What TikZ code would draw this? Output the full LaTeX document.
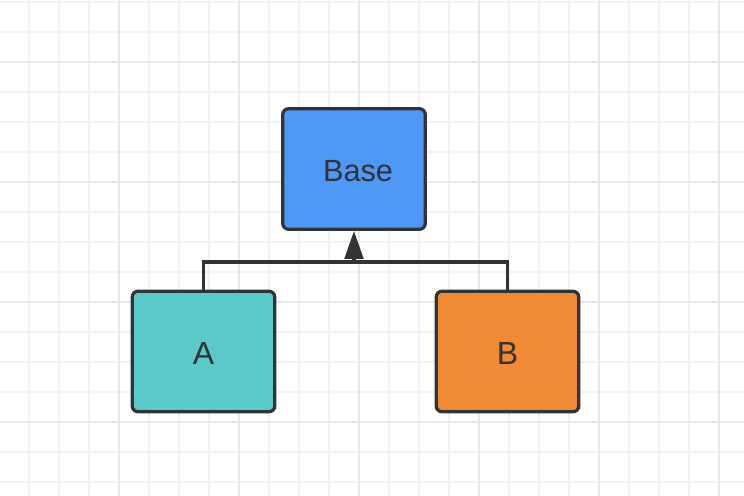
\documentclass[tikz,border=0pt]{standalone}
\usepackage{fontspec}
\setmainfont{Liberation Sans}
\usepackage{tikz}
\usetikzlibrary{arrows.meta, positioning}

\definecolor{baseblue}{HTML}{4F98F7}
\definecolor{ateal}{HTML}{5BC9C9}
\definecolor{borange}{HTML}{F08A35}
\definecolor{edgegray}{HTML}{333333}

\begin{document}
\begin{tikzpicture}[
    x=0.75pt, y=0.75pt,
    cls/.style={rectangle, draw=edgegray, line width=2.4pt, rounded corners=4.5pt, minimum width=107pt, minimum height=90.5pt, text=edgegray, text height=20pt, text depth=0pt, font=\fontsize{24}{28}\selectfont},
    minorline/.style={draw=black!5, line width=1.5pt},
    majorline/.style={draw=black!9, line width=1.5pt},
    conn/.style={draw=edgegray, line width=2.4pt},
]
\useasboundingbox (0,0) rectangle (744,496);
\clip (0,0) rectangle (744,496);

% background grid
\fill[white] (0,0) rectangle (744,496);
\foreach \gx in {29,59,...,749} \draw[minorline] (\gx,0) -- (\gx,496);
\foreach \gy in {14,44,...,494} \draw[minorline] (0,\gy) -- (744,\gy);
\foreach \gx in {119,239,...,719} \draw[majorline] (\gx,0) -- (\gx,496);
\foreach \gy in {74,194,...,434} \draw[majorline] (0,\gy) -- (744,\gy);

% classes
\node[cls, fill=baseblue, text height=19.5pt, font=\fontsize{23}{27}\selectfont] (base) at (354,327) {\hspace*{6pt}Base};
\node[cls, fill=ateal] (a) at (203.5,144.5) {A};
\node[cls, fill=borange] (b) at (507.5,144.5) {B};

% inheritance
\coordinate (join) at (354,234);
\draw[conn] (a.north) |- (join) -| (b.north);
\draw[conn, -{Triangle[length=21pt, width=14pt]}] (join) -- (base.south);
\end{tikzpicture}
\end{document}
